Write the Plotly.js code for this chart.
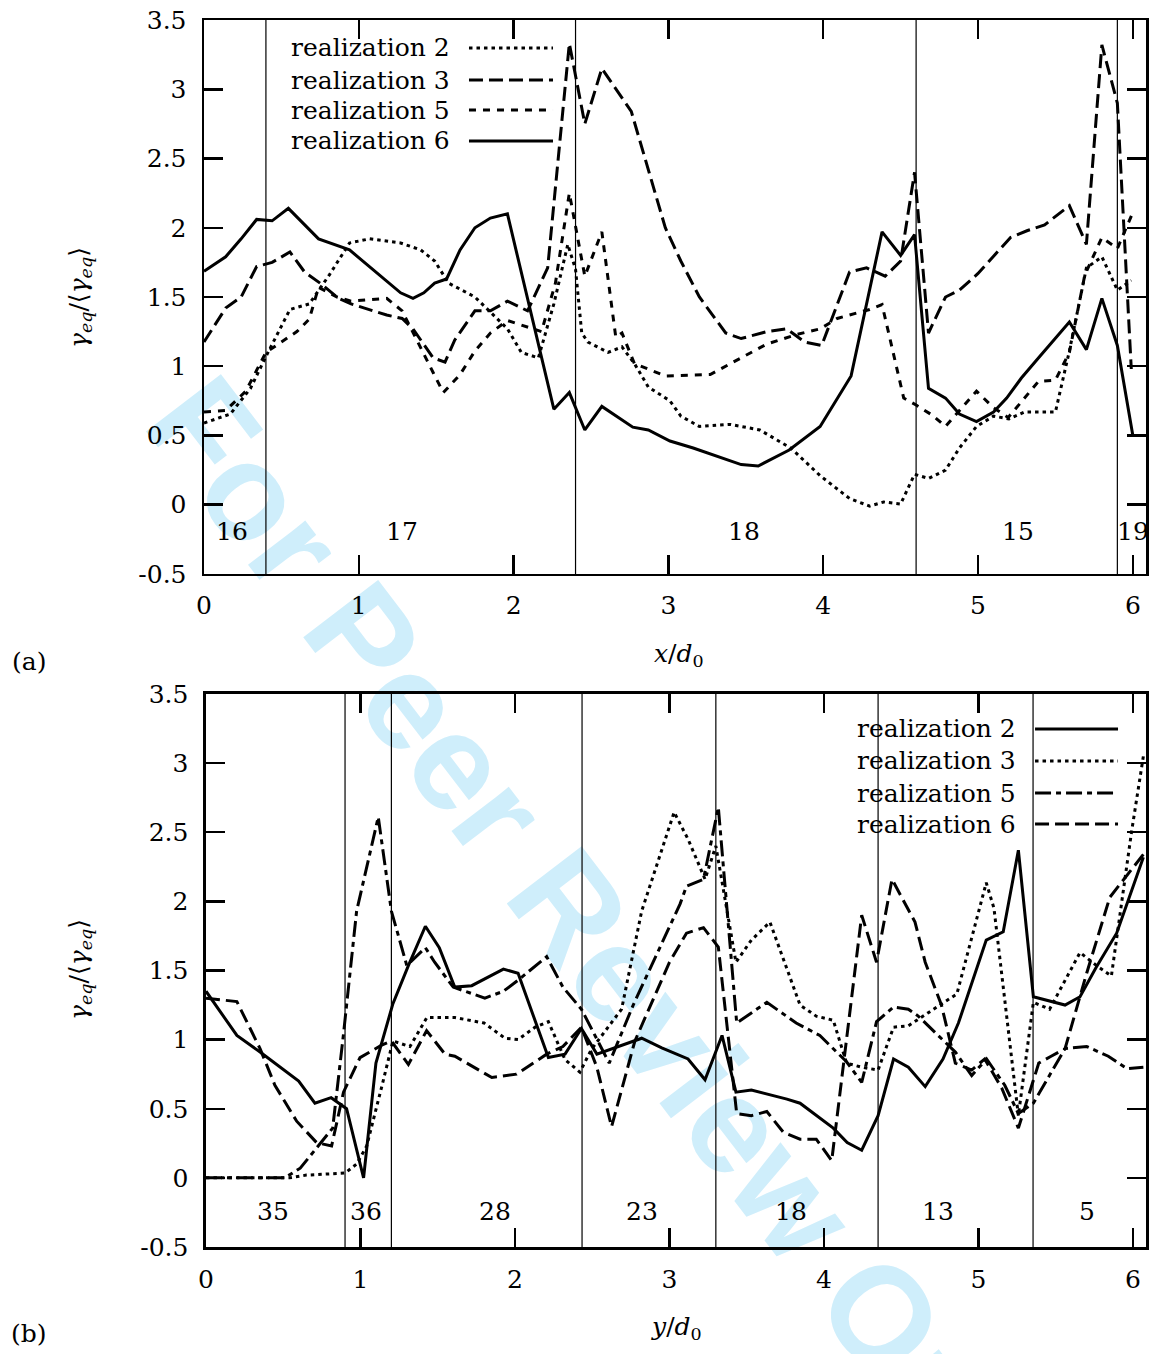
<!DOCTYPE html>
<html>
<head>
<meta charset="utf-8">
<script src="https://cdn.plot.ly/plotly-3.0.1.min.js"></script>
<style>
  html, body { margin:0; padding:0; background:#fff; }
  #wrap { position:relative; width:1150px; height:1354px; overflow:hidden; }
  #wm { position:absolute; left:606px; top:955px; transform:translate(-50%,-50%) rotate(52.6deg);
        font-family:"Liberation Sans", Arial, sans-serif; font-weight:bold; font-size:137px;
        color:#cfeefb; white-space:nowrap; z-index:0; }
  #plot { position:absolute; left:0; top:0; width:1150px; height:1354px; z-index:1; }
</style>
</head>
<body>
<div id="wrap">
  <div id="wm">For Peer Review Only</div>
  <div id="plot"></div>
</div>
<script>
// ---------------- data: panel (a), along x/d0 ----------------
const a_r2_x = [0.00,0.17,0.30,0.40,0.555,0.68,0.81,0.94,1.07,1.27,1.40,1.49,1.58,1.75,1.86,1.96,2.05,2.16,2.26,2.35,2.40,2.44,2.48,2.61,2.70,2.78,2.87,3.01,3.08,3.20,3.40,3.59,3.79,3.98,4.17,4.30,4.39,4.50,4.59,4.68,4.79,4.88,4.99,5.10,5.20,5.30,5.50,5.59,5.70,5.80,5.90,5.99];
const a_r2_y = [0.59,0.655,0.84,1.07,1.41,1.45,1.66,1.89,1.92,1.89,1.84,1.76,1.60,1.50,1.38,1.27,1.10,1.06,1.45,1.88,1.70,1.24,1.175,1.10,1.14,1.02,0.85,0.75,0.64,0.565,0.58,0.54,0.41,0.21,0.045,-0.01,0.02,0.005,0.22,0.19,0.25,0.41,0.565,0.64,0.62,0.67,0.67,1.11,1.71,1.79,1.55,1.62];

const a_r3_x = [0.00,0.14,0.24,0.34,0.44,0.555,0.65,0.75,0.87,0.95,1.18,1.28,1.35,1.48,1.557,1.62,1.75,1.85,1.96,2.09,2.22,2.36,2.46,2.57,2.76,2.98,3.08,3.20,3.37,3.47,3.635,3.765,3.88,3.99,4.17,4.28,4.40,4.50,4.59,4.68,4.79,4.88,5.00,5.21,5.32,5.43,5.59,5.70,5.80,5.90,5.99];
const a_r3_y = [1.175,1.42,1.50,1.72,1.75,1.825,1.68,1.60,1.49,1.45,1.37,1.345,1.27,1.06,1.03,1.19,1.40,1.40,1.47,1.40,1.71,3.33,2.75,3.15,2.84,2.00,1.76,1.50,1.24,1.20,1.25,1.27,1.175,1.15,1.68,1.71,1.65,1.76,2.40,1.24,1.50,1.55,1.67,1.93,1.98,2.02,2.16,1.88,3.32,2.90,0.98];

const a_r5_x = [0.00,0.14,0.27,0.40,0.60,0.68,0.74,0.86,0.95,1.18,1.28,1.35,1.48,1.546,1.654,1.75,1.85,1.96,2.07,2.18,2.27,2.36,2.46,2.57,2.66,2.70,2.78,2.98,3.27,3.47,3.635,3.83,3.98,4.09,4.30,4.38,4.52,4.60,4.70,4.79,4.99,5.10,5.195,5.39,5.50,5.59,5.69,5.80,5.90,6.00];
const a_r5_y = [0.67,0.68,0.82,1.10,1.25,1.34,1.57,1.50,1.47,1.49,1.40,1.24,0.955,0.81,0.94,1.11,1.24,1.33,1.29,1.25,1.60,2.25,1.65,1.97,1.21,1.24,1.02,0.93,0.94,1.06,1.16,1.23,1.27,1.345,1.41,1.445,0.77,0.72,0.65,0.565,0.82,0.70,0.63,0.89,0.90,1.10,1.66,1.93,1.85,2.11];

const a_r6_x = [0.00,0.14,0.24,0.34,0.44,0.545,0.74,0.94,1.27,1.35,1.42,1.49,1.567,1.654,1.75,1.85,1.96,2.26,2.36,2.46,2.57,2.77,2.87,3.01,3.16,3.47,3.58,3.78,3.98,4.18,4.38,4.50,4.59,4.68,4.79,4.88,4.99,5.10,5.185,5.28,5.39,5.50,5.59,5.70,5.80,5.90,6.00];
const a_r6_y = [1.685,1.79,1.92,2.06,2.05,2.14,1.92,1.84,1.53,1.49,1.53,1.60,1.63,1.84,2.00,2.07,2.10,0.69,0.81,0.54,0.71,0.56,0.54,0.46,0.41,0.29,0.28,0.395,0.565,0.93,1.97,1.80,1.95,0.84,0.77,0.655,0.60,0.67,0.77,0.915,1.06,1.20,1.32,1.12,1.49,1.15,0.50];

const a_bounds = [0.40, 2.40, 4.60, 5.90];
const a_regionText = ['16','17','18','15','19'];
const a_regionX = [0.18, 1.28, 3.49, 5.26, 6.00];
const a_regionY = -0.19;

// ---------------- data: panel (b), along y/d0 ----------------
const b_r2_x = [0.00,0.20,0.35,0.48,0.60,0.705,0.81,0.91,1.02,1.10,1.21,1.31,1.42,1.51,1.61,1.72,1.925,2.02,2.216,2.324,2.43,2.53,2.82,2.95,3.12,3.23,3.34,3.43,3.53,3.76,3.845,4.06,4.15,4.244,4.35,4.45,4.546,4.655,4.77,4.87,5.05,5.16,5.258,5.355,5.56,5.657,5.76,5.894,6.067];
const b_r2_y = [1.35,1.03,0.91,0.80,0.70,0.54,0.58,0.50,0.00,0.83,1.26,1.535,1.82,1.665,1.38,1.39,1.51,1.48,0.87,0.895,1.08,0.895,1.01,0.94,0.86,0.71,1.03,0.62,0.635,0.57,0.54,0.36,0.256,0.20,0.45,0.86,0.80,0.66,0.86,1.12,1.72,1.78,2.37,1.31,1.25,1.31,1.52,1.77,2.32];

const b_r3_x = [0.00,0.54,0.65,0.90,0.975,1.04,1.14,1.21,1.32,1.43,1.61,1.80,1.935,2.02,2.13,2.216,2.324,2.42,2.495,2.69,2.82,3.03,3.12,3.23,3.30,3.43,3.53,3.65,3.845,3.95,4.06,4.146,4.244,4.35,4.45,4.546,4.675,4.86,5.05,5.10,5.258,5.355,5.46,5.657,5.765,5.86,5.99,6.067];
const b_r3_y = [0.00,0.00,0.02,0.035,0.10,0.23,0.67,0.99,0.95,1.16,1.16,1.12,1.01,1.00,1.09,1.13,0.855,0.765,0.93,1.22,1.93,2.645,2.45,2.16,2.40,1.56,1.72,1.85,1.25,1.17,1.14,0.83,0.80,0.78,1.09,1.10,1.195,1.33,2.135,1.95,0.45,1.27,1.22,1.63,1.535,1.46,2.50,3.05];

const b_r5_x = [0.00,0.51,0.61,0.82,0.89,0.975,1.115,1.20,1.30,1.42,1.48,1.60,1.805,1.925,2.02,2.205,2.31,2.43,2.61,2.765,3.068,3.11,3.22,3.316,3.435,3.63,3.82,3.973,4.146,4.244,4.34,4.45,4.546,4.61,4.85,4.956,5.052,5.17,5.258,5.355,5.56,5.70,5.84,5.96,6.067];
const b_r5_y = [0.00,0.00,0.07,0.36,1.04,1.93,2.61,1.93,1.535,1.665,1.56,1.38,1.30,1.35,1.43,1.60,1.38,1.22,0.83,1.25,1.98,2.11,2.16,2.68,1.12,1.27,1.12,1.03,0.84,0.69,1.13,1.235,1.22,1.17,0.91,0.74,0.86,0.67,0.465,0.54,0.935,0.95,0.88,0.79,0.80];

const b_r6_x = [0.00,0.20,0.35,0.446,0.587,0.716,0.813,0.89,0.997,1.137,1.20,1.31,1.428,1.547,1.611,1.85,2.01,2.205,2.31,2.43,2.53,2.625,2.776,3.00,3.11,3.22,3.316,3.435,3.53,3.63,3.737,3.845,3.95,4.05,4.244,4.34,4.44,4.524,4.589,4.655,4.76,4.85,4.956,5.04,5.15,5.258,5.39,5.47,5.56,5.70,5.85,6.067];
const b_r6_y = [1.30,1.275,0.935,0.67,0.41,0.255,0.23,0.62,0.87,0.96,0.99,0.82,1.065,0.895,0.88,0.726,0.75,0.895,0.95,1.09,0.80,0.37,0.99,1.56,1.77,1.81,1.67,0.465,0.45,0.48,0.33,0.28,0.28,0.125,1.90,1.56,2.16,1.98,1.85,1.56,1.25,0.83,0.78,0.86,0.65,0.36,0.83,0.88,0.935,1.48,2.03,2.34];

const b_bounds = [0.90, 1.20, 2.434, 3.30, 4.35, 5.353];
const b_regionText = ['35','36','28','23','18','13','5'];
const b_regionX = [0.434, 1.035, 1.868, 2.82, 3.786, 4.735, 5.70];
const b_regionY = -0.245;

// ticks
const xTicks = [0,1,2,3,4,5,6];
const yTicks = [-0.5,0,0.5,1,1.5,2,2.5,3,3.5];
const yTickText = ['-0.5','0','0.5','1','1.5','2','2.5','3','3.5'];

// legend labels
const a_names = ['realization 2','realization 3','realization 5','realization 6'];
const b_names = ['realization 2','realization 3','realization 5','realization 6'];

// ---------------- styles ----------------
const FONT = 'DejaVu Serif';
const FS = 25;
const DOT = '3.5px,4px';
const LDASH = '14px,6px';
const SDASH = '7px,7px';
const DASHDOT = '16px,5px,5px,5px';
const LW = 3;

function tr(x, y, dash, xa, ya) {
  return { x: x, y: y, type: 'scatter', mode: 'lines', xaxis: xa, yaxis: ya,
           line: { color: '#000', width: LW, dash: dash }, showlegend: false, hoverinfo: 'skip' };
}

const data = [
  tr(a_r2_x, a_r2_y, DOT, 'x', 'y'),
  tr(a_r3_x, a_r3_y, LDASH, 'x', 'y'),
  tr(a_r5_x, a_r5_y, SDASH, 'x', 'y'),
  tr(a_r6_x, a_r6_y, 'solid', 'x', 'y'),
  tr(b_r2_x, b_r2_y, 'solid', 'x2', 'y2'),
  tr(b_r3_x, b_r3_y, DOT, 'x2', 'y2'),
  tr(b_r5_x, b_r5_y, DASHDOT, 'x2', 'y2'),
  tr(b_r6_x, b_r6_y, LDASH, 'x2', 'y2')
];

const axisCommon = {
  showline: true, linecolor: '#000', linewidth: 2.5, mirror: 'ticks',
  ticks: 'inside', ticklen: 19, tickwidth: 2.5, tickcolor: '#000',
  showgrid: false, zeroline: false, fixedrange: true,
  tickfont: { family: FONT, size: FS, color: '#000' }
};

const xa = Object.assign({}, axisCommon, { tickvals: xTicks, ticktext: xTicks.map(String), ticklabelstandoff: 8 });
const ya = Object.assign({}, axisCommon, { tickvals: yTicks, ticktext: yTickText, ticklabelstandoff: 10 });

const layout = {
  width: 1150, height: 1354,
  margin: { l: 204, r: 4, t: 20, b: 107 },
  paper_bgcolor: 'rgba(0,0,0,0)', plot_bgcolor: 'rgba(0,0,0,0)',
  showlegend: false,
  font: { family: FONT, size: FS, color: '#000' },
  xaxis: Object.assign({}, xa, { domain: [0, 1], anchor: 'y', range: [0, 6.085] }),
  yaxis: Object.assign({}, ya, { domain: [0.5485, 1], anchor: 'x', range: [-0.5, 3.5] }),
  xaxis2: Object.assign({}, xa, { domain: [0.0021, 1], anchor: 'y2', range: [0, 6.084] }),
  yaxis2: Object.assign({}, ya, { domain: [0, 0.4507], anchor: 'x2', range: [-0.5, 3.5] }),
  shapes: [],
  annotations: []
};

a_bounds.forEach(b => layout.shapes.push({ type: 'line', xref: 'x', yref: 'y domain', x0: b, x1: b, y0: 0, y1: 1, line: { color: '#000', width: 1.2 } }));
b_bounds.forEach(b => layout.shapes.push({ type: 'line', xref: 'x2', yref: 'y2 domain', x0: b, x1: b, y0: 0, y1: 1, line: { color: '#000', width: 1.2 } }));

a_regionText.forEach((t, i) => layout.annotations.push({ text: t, xref: 'x', yref: 'y', x: a_regionX[i], y: a_regionY, showarrow: false, xanchor: 'center', yanchor: 'middle', font: { family: FONT, size: FS } }));
b_regionText.forEach((t, i) => layout.annotations.push({ text: t, xref: 'x2', yref: 'y2', x: b_regionX[i], y: b_regionY, showarrow: false, xanchor: 'center', yanchor: 'middle', font: { family: FONT, size: FS } }));

const aDashes = [DOT, LDASH, SDASH, 'solid'];
const bDashes = ['solid', DOT, DASHDOT, LDASH];
const aRows = [0.9772, 0.9511, 0.9266, 0.9014];
const bRows = [0.4222, 0.3961, 0.3700, 0.3447];
a_names.forEach((n, i) => {
  layout.annotations.push({ text: n, xref: 'paper', yref: 'paper', x: 0.2633, y: aRows[i], xanchor: 'right', yanchor: 'middle', showarrow: false, font: { family: FONT, size: FS } });
  layout.shapes.push({ type: 'line', xref: 'paper', yref: 'paper', x0: 0.2813, x1: 0.3705, y0: aRows[i], y1: aRows[i], line: { color: '#000', width: LW, dash: aDashes[i] } });
});
b_names.forEach((n, i) => {
  layout.annotations.push({ text: n, xref: 'paper', yref: 'paper', x: 0.8641, y: bRows[i], xanchor: 'right', yanchor: 'middle', showarrow: false, font: { family: FONT, size: FS } });
  layout.shapes.push({ type: 'line', xref: 'paper', yref: 'paper', x0: 0.8822, x1: 0.9703, y0: bRows[i], y1: bRows[i], line: { color: '#000', width: LW, dash: bDashes[i] } });
});

const ytitle = '<i>γ<sub>eq</sub></i>/⟨<i>γ<sub>eq</sub></i>⟩';
layout.annotations.push({ text: ytitle, xref: 'paper', yref: 'paper', x: -0.1316, y: 0.7734, textangle: -90, showarrow: false, xanchor: 'center', yanchor: 'middle', font: { family: FONT, size: FS } });
layout.annotations.push({ text: ytitle, xref: 'paper', yref: 'paper', x: -0.1316, y: 0.2258, textangle: -90, showarrow: false, xanchor: 'center', yanchor: 'middle', font: { family: FONT, size: FS } });
layout.annotations.push({ text: '<i>x</i>/<i>d</i><sub>0</sub>', xref: 'paper', yref: 'paper', x: 0.5042, y: 0.4825, showarrow: false, xanchor: 'center', yanchor: 'middle', font: { family: FONT, size: FS } });
layout.annotations.push({ text: '<i>y</i>/<i>d</i><sub>0</sub>', xref: 'paper', yref: 'paper', x: 0.5021, y: -0.066, showarrow: false, xanchor: 'center', yanchor: 'middle', font: { family: FONT, size: FS } });
layout.annotations.push({ text: '(a)', xref: 'paper', yref: 'paper', x: -0.1858, y: 0.4768, showarrow: false, xanchor: 'center', yanchor: 'middle', font: { family: FONT, size: FS } });
layout.annotations.push({ text: '(b)', xref: 'paper', yref: 'paper', x: -0.1858, y: -0.0709, showarrow: false, xanchor: 'center', yanchor: 'middle', font: { family: FONT, size: FS } });

Plotly.newPlot('plot', data, layout, { staticPlot: true, displayModeBar: false });
</script>
</body>
</html>
